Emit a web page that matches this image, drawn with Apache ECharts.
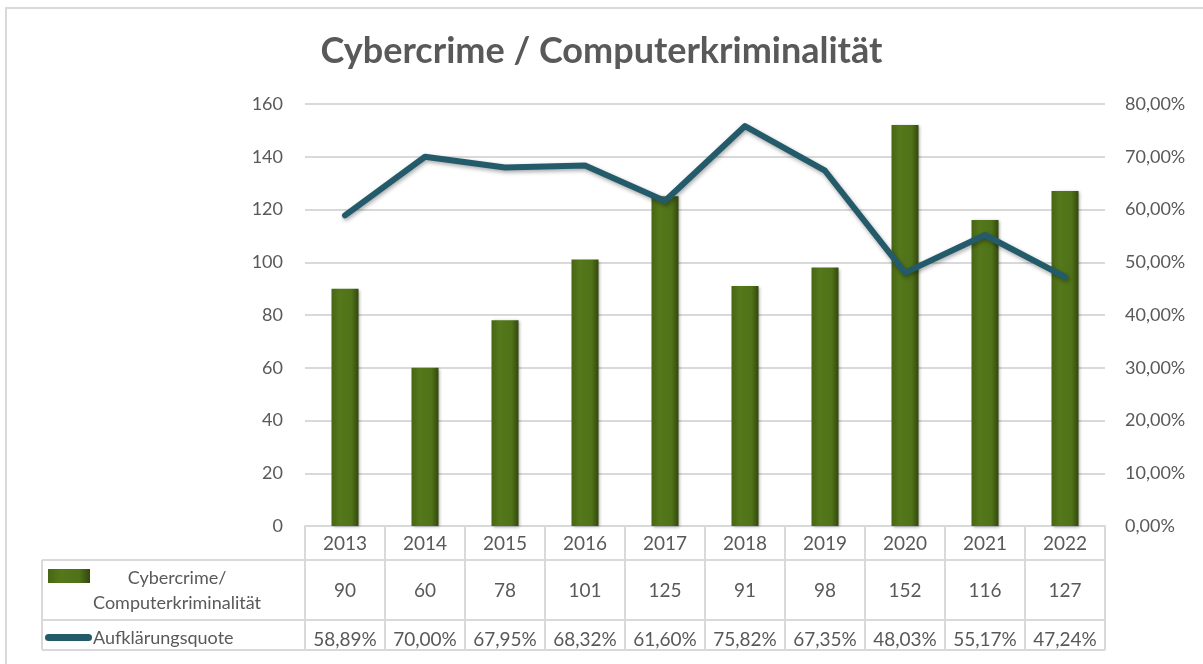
<!DOCTYPE html>
<html>
<head>
<meta charset="utf-8">
<script src="https://cdn.jsdelivr.net/npm/echarts@6/dist/echarts.min.js"></script>
<style>
  html, body { margin: 0; padding: 0; background: #fff; }
  #chart { width: 1203px; height: 664px; }
</style>
</head>
<body>
<div id="chart"></div>
<script>
// Daten
const years = ["2013", "2014", "2015", "2016", "2017", "2018", "2019", "2020", "2021", "2022"];
const cases = [90, 60, 78, 101, 125, 91, 98, 152, 116, 127];
const rates = [58.89, 70.0, 67.95, 68.32, 61.6, 75.82, 67.35, 48.03, 55.17, 47.24];
const leftTicks = { min: 0, max: 160, interval: 20 };
const rightTicks = { min: 0, max: 80, interval: 10 };

const FONT = "Lato, 'Open Sans', sans-serif";
const TXT = "#595959";
const LINE = "#d9d9d9";

// Geometrie
const gLeft = 305, gRight = 98, gTop = 104, gBottom = 138;
const W = 1203, H = 664;
const axisY = H - gBottom;          // 526
const row1 = axisY + 34;            // 560
const row2 = row1 + 60;             // 620
const row3 = row2 + 30;             // 650
const tableLeft = 42;
const tableRight = W - gRight;

function pct(v) {
  return v.toFixed(2).replace(".", ",") + "%";
}

const barFill = new echarts.graphic.LinearGradient(0, 0, 1, 0, [
  { offset: 0, color: "#476614" },
  { offset: 0.3, color: "#55781b" },
  { offset: 0.75, color: "#4f7119" },
  { offset: 1, color: "#33480d" }
]);

const chart = echarts.init(document.getElementById("chart"));

chart.setOption({
  animation: false,
  title: {
    text: "Cybercrime / Computerkriminalität",
    left: "center",
    top: 28,
    textStyle: { fontFamily: FONT, fontSize: 36, fontWeight: "bold", color: TXT }
  },
  grid: { left: gLeft, right: gRight, top: gTop, bottom: gBottom, containLabel: false },
  xAxis: {
    type: "category",
    data: years,
    axisLine: { show: true, lineStyle: { color: LINE, width: 2 } },
    axisTick: { show: true, interval: 0, length: row3 - axisY, lineStyle: { color: LINE, width: 2 } },
    axisLabel: {
      interval: 0,
      margin: 0,
      fontFamily: FONT,
      color: TXT,
      formatter: (v, i) => "{y|" + v + "}\n{c|" + cases[i] + "}\n{q|" + pct(rates[i]) + "}",
      rich: {
        y: { fontFamily: FONT, fontSize: 19, color: TXT, lineHeight: 35 },
        c: { fontFamily: FONT, fontSize: 19, color: TXT, lineHeight: 60 },
        q: { fontFamily: FONT, fontSize: 19, color: TXT, lineHeight: 38 }
      }
    }
  },
  yAxis: [
    {
      type: "value",
      min: leftTicks.min,
      max: leftTicks.max,
      interval: leftTicks.interval,
      axisLine: { show: false },
      axisTick: { show: false },
      axisLabel: { fontFamily: FONT, fontSize: 18, color: TXT, margin: 22 },
      splitLine: { lineStyle: { color: LINE, width: 2 } }
    },
    {
      type: "value",
      min: rightTicks.min,
      max: rightTicks.max,
      interval: rightTicks.interval,
      axisLine: { show: false },
      axisTick: { show: false },
      splitLine: { show: false },
      axisLabel: { fontFamily: FONT, fontSize: 18, color: TXT, margin: 20, formatter: v => pct(v) }
    }
  ],
  series: [
    {
      name: "Cybercrime/ Computerkriminalität",
      type: "bar",
      data: cases,
      barWidth: 27,
      itemStyle: {
        color: barFill,
        shadowColor: "rgba(0,0,0,0.35)",
        shadowBlur: 3,
        shadowOffsetX: 1,
        shadowOffsetY: 1
      }
    },
    {
      name: "Aufklärungsquote",
      type: "line",
      yAxisIndex: 1,
      data: rates,
      showSymbol: false,
      lineStyle: {
        color: "#245b6b",
        width: 6,
        cap: "round",
        join: "round",
        shadowColor: "rgba(0,0,0,0.35)",
        shadowBlur: 4,
        shadowOffsetX: 1,
        shadowOffsetY: 2
      },
      itemStyle: { color: "#245b6b" }
    }
  ],
  graphic: [
    // äußerer Rahmen
    { type: "rect", shape: { x: 6, y: 8, width: 1400, height: 1000 }, style: { fill: "none", stroke: LINE, lineWidth: 2 }, silent: true },
    // Tabellenlinien
    { type: "line", shape: { x1: tableLeft, y1: row1, x2: tableRight, y2: row1 }, style: { stroke: LINE, lineWidth: 2 } },
    { type: "line", shape: { x1: tableLeft, y1: row2, x2: tableRight, y2: row2 }, style: { stroke: LINE, lineWidth: 2 } },
    { type: "line", shape: { x1: tableLeft, y1: row3, x2: tableRight, y2: row3 }, style: { stroke: LINE, lineWidth: 2 } },
    { type: "line", shape: { x1: tableLeft, y1: row1, x2: tableLeft, y2: row3 }, style: { stroke: LINE, lineWidth: 2 } },
    // Legendenschlüssel
    {
      type: "rect",
      shape: { x: 48, y: 569, width: 42, height: 14 },
      style: { fill: barFill }
    },
    {
      type: "text",
      x: 177, y: row1 + 31,
      style: {
        text: "Cybercrime/\nComputerkriminalität",
        font: "18px " + FONT, fill: TXT, align: "center", verticalAlign: "middle", lineHeight: 25
      }
    },
    {
      type: "rect",
      shape: { x: 45, y: 634, width: 47, height: 7, r: 3.5 },
      style: { fill: "#245b6b" }
    },
    {
      type: "text",
      x: 93, y: row2 + 18,
      style: { text: "Aufklärungsquote", font: "18px " + FONT, fill: TXT, align: "left", verticalAlign: "middle" }
    }
  ]
});
</script>
</body>
</html>
